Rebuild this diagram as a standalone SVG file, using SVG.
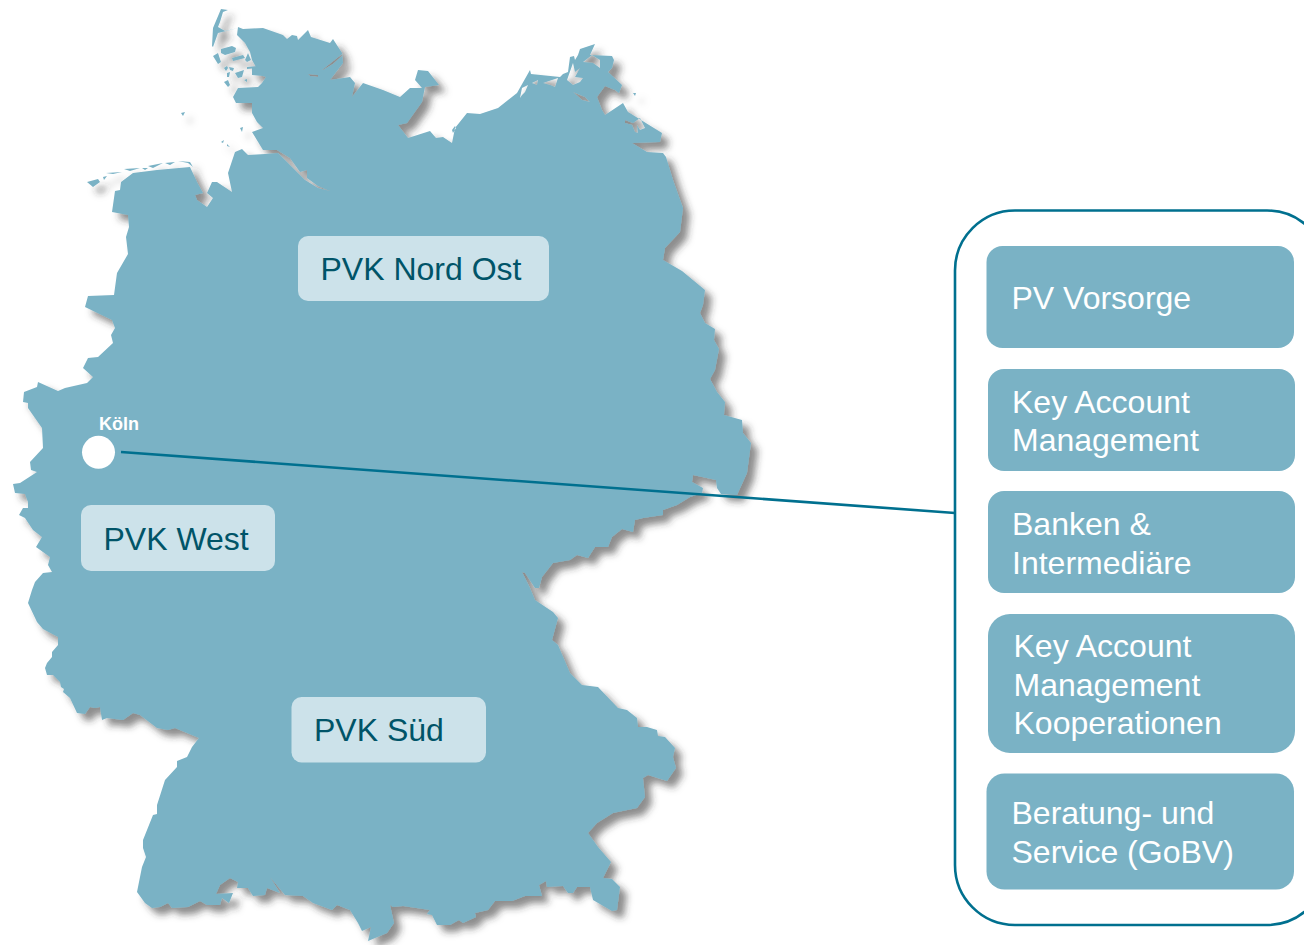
<svg xmlns="http://www.w3.org/2000/svg" width="1304" height="945" viewBox="0 0 1304 945">
<style>
.land{fill:#7AB2C5;fill-rule:evenodd}
.region{fill:#CCE2EA}
.regiontext{font-family:"Liberation Sans",Arial,sans-serif;font-size:32px;fill:#005468}
.box{fill:#7AB2C5}
.boxtext{font-family:"Liberation Sans",Arial,sans-serif;font-size:32px;fill:#fff}
.link{fill:none;stroke:#00708F;stroke-width:2.6}
</style>
<defs>
<filter id="shadow" x="-5%" y="-5%" width="115%" height="115%">
<feDropShadow dx="7" dy="7" stdDeviation="3.500" flood-color="#333" flood-opacity="0.55"/>
</filter>
</defs>
<rect width="1304" height="945" fill="#fff"/>
<g id="map" filter="url(#shadow)">
<path class="land" d="M238 27L243 29L263 28L283 35L287 39L292 35L297 36L298 40L308 30L311 37L330 43L333 39L342 53L343 63L330 80L350 77L355 83L352 97L363 83L383 90L400 97L410 88L422 88L415 80L418 70L428 71L439 85L425 87L422 102L407 123L398 125L408 138L430 131L436 138L443 137L452 143L455 128L467 113L480 114L498 108L517 93L530 70L531 74L560 77L563 74L568 72L570 57L574 56L575 60L578 55L580 49L595 44L590 55L612 56L614 60L612 68L608 72L622 85L619 93L615 90L605 86L597 97L602 110L605 115L620 105L623 103L628 112L662 133L660 142L632 143L647 152L663 153L666 157L673 180L683 208L680 232L665 248L663 260L682 271L705 290L703 305L700 313L705 323L715 329L714 340L719 349L715 370L710 379L717 392L725 402L724 415L742 420L743 433L751 443L747 473L737 495L721 494L717 488L716 480L693 475L692 482L703 488L702 493L690 497L677 505L663 510L663 515L643 518L635 520L633 532L622 529L612 537L608 547L595 547L588 558L577 555L570 560L553 563L542 577L539 588L535 588L525 573L522 572L530 588L535 600L553 612L558 618L552 640L558 645L570 673L582 685L598 687L618 708L627 710L637 718L638 727L647 727L657 730L658 736L665 737L675 748L673 757L676 768L667 781L648 775L643 778L645 797L637 808L613 813L597 823L588 833L598 847L611 862L603 878L612 879L620 887L617 910L612 911L593 900L590 887L577 887L573 893L568 893L563 886L547 887L546 881L539 885L542 896L525 896L512 901L495 901L488 910L475 913L476 917L463 923L459 920L450 925L437 925L432 915L427 914L430 910L403 906L393 907L390 905L394 923L387 933L368 941L371 927L362 931L358 923L350 910L337 905L332 910L313 903L303 896L285 895L270 877L280 893L267 888L265 895L253 896L248 888L237 888L238 882L230 878L220 885L216 894L233 893L229 903L222 898L220 905L207 905L200 901L188 907L172 908L168 903L160 907L152 908L145 903L137 892L142 867L146 857L143 848L143 840L153 815L157 814L157 805L165 780L177 767L177 761L187 757L192 747L199 738L175 728L168 730L157 728L140 715L133 713L123 720L107 718L102 720L100 707L95 708L90 707L85 714L77 713L70 698L63 692L64 689L61 687L60 682L53 675L47 675L45 668L47 663L52 657L52 652L58 645L58 637L43 629L37 622L28 603L32 590L35 582L43 573L52 572L48 565L50 557L36 547L42 537L33 530L25 518L19 515L23 508L28 508L28 502L25 494L15 493L13 484L20 483L37 472L31 470L30 462L43 448L42 428L35 418L28 408L28 403L23 402L24 392L37 387L38 382L58 391L65 388L87 383L93 377L83 368L88 358L98 357L113 343L111 335L115 328L112 320L85 307L88 296L114 295L117 273L128 254L126 237L129 227L128 215L112 212L115 191L120 190L121 182L133 173L157 170L190 167L197 182L203 193L195 195L197 200L207 207L213 198L207 193L212 182L217 182L232 192L228 173L235 152L242 149L248 155L265 154L278 153L295 170L305 180L318 188L330 191L318 186L307 178L307 170L300 172L290 158L277 150L263 150L252 132L263 128L257 122L252 113L252 103L236 103L233 97L238 88L258 87L262 83L266 77L263 76L252 75L252 68L256 67L252 60L250 52L245 43L237 35Z
M583 62L592 55L600 60L600 68L593 63Z
M567 80L573 63L575 72L580 68L575 77L583 78L580 82L573 85Z
M520 98L522 88L528 85L525 92L522 95Z
M532 83L538 80L537 85Z
M543 83L558 78L555 87L550 85Z
M573 92L585 97L590 102L582 100Z
M625 120L633 123L640 118L645 128L640 130L637 125L638 133L635 132L632 125L625 123Z
M308 74L318 75L318 77L310 76Z
M322 70L332 62L342 54L342 56L333 64L323 70Z
M452 130L455 126L456 128L453 133Z"/>
<path class="land" d="M221 9L228 10L223 12L220 22L218 27L225 31L238 28L218 33L213 47L212 46L213 28Z
M221 49L232 46L236 48L235 52L225 55L221 53Z
M213 56L218 53L221 62L218 64Z
M232 58L243 55L245 58L233 61Z
M245 60L248 53L251 60L247 62Z
M235 73L244 70L242 77L238 78Z
M247 67L258 66L257 68L247 69Z
M224 68L227 66L228 68L226 71Z
M229 67L234 68L233 71L230 70Z
M227 73L230 72L229 77L227 77Z
M224 82L228 80L230 85L228 87Z
M244 80L247 79L247 82Z
M181 113L185 112L183 116Z
M240 128L243 127L242 132Z
M221 142L224 140L223 143Z
M227 144L230 147L227 146Z
M87 182L98 179L100 182L93 187Z
M103 177L107 176L104 180Z
M106 173L122 172L113 174Z
M124 169L140 168L130 171Z
M142 168L148 168L145 170Z
M148 166L163 163L153 168Z
M165 163L175 162L170 165Z
M178 161L188 163L193 167L190 162Z
M633 93L636 93L635 96Z"/>
</g>
<g id="connectors">
<line class="link" x1="121" y1="452" x2="955" y2="513"/>
</g>
<g id="koeln">
<circle cx="98.500" cy="452.300" r="16.500" fill="#fff"/>
<text x="99" y="430" font-family="'Liberation Sans',Arial,sans-serif" font-size="18" font-weight="700" fill="#fff">Köln</text>
</g>
<g id="pvk-nord-ost">
<rect class="region" x="298" y="236" width="251" height="65" rx="10"/>
<text class="regiontext" x="320.500" y="280">PVK Nord Ost</text>
</g>
<g id="pvk-west">
<rect class="region" x="81" y="505" width="194" height="66" rx="10"/>
<text class="regiontext" x="103.500" y="549.500">PVK West</text>
</g>
<g id="pvk-sued">
<rect class="region" x="291.500" y="697" width="194.500" height="65.500" rx="10"/>
<text class="regiontext" x="314" y="741">PVK Süd</text>
</g>
<g id="container">
<rect x="955" y="210.500" width="372" height="714.500" rx="60" fill="none" stroke="#00708F" stroke-width="2.600"/>
</g>
<g id="pv-vorsorge">
<rect class="box" x="986.500" y="246" width="307.500" height="102" rx="16"/>
<text class="boxtext" x="1011.500" y="309">PV Vorsorge</text>
</g>
<g id="key-account">
<rect class="box" x="988" y="369" width="307" height="102" rx="16"/>
<text class="boxtext" x="1012" y="413">Key Account</text>
<text class="boxtext" x="1012" y="451">Management</text>
</g>
<g id="banken">
<rect class="box" x="988" y="491" width="307" height="102" rx="16"/>
<text class="boxtext" x="1012" y="535">Banken &amp;</text>
<text class="boxtext" x="1012" y="574">Intermediäre</text>
</g>
<g id="key-account-kooperationen">
<rect class="box" x="988" y="614" width="307" height="139" rx="22"/>
<text class="boxtext" x="1013.500" y="657">Key Account</text>
<text class="boxtext" x="1013.500" y="696">Management</text>
<text class="boxtext" x="1013.500" y="734">Kooperationen</text>
</g>
<g id="beratung">
<rect class="box" x="986.500" y="773.500" width="307.500" height="116" rx="18"/>
<text class="boxtext" x="1011.500" y="824">Beratung- und</text>
<text class="boxtext" x="1011.500" y="863">Service (GoBV)</text>
</g>
</svg>
